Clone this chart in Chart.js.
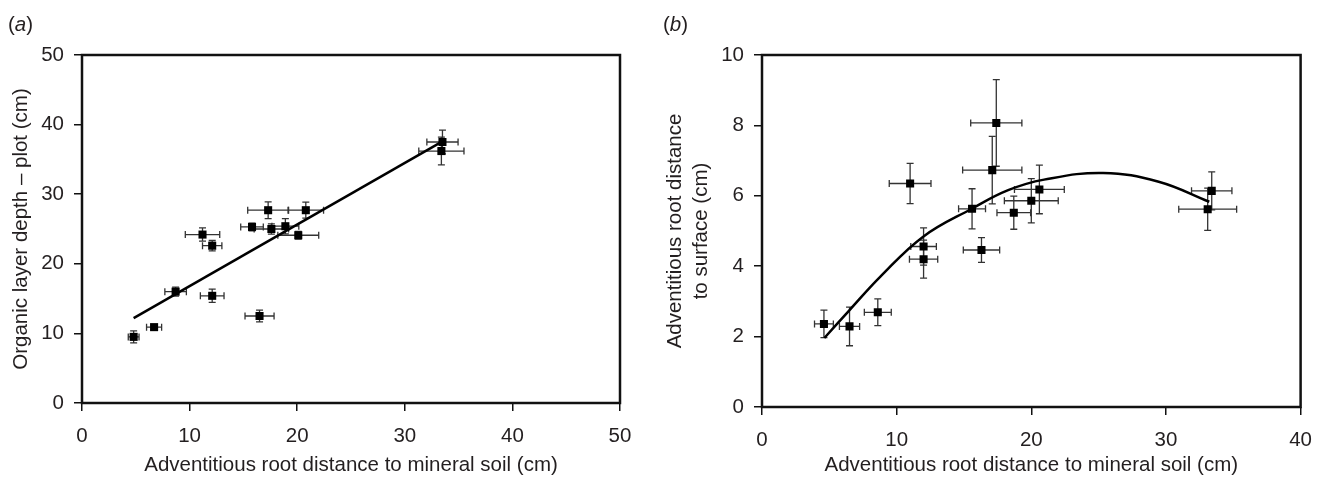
<!DOCTYPE html>
<html>
<head>
<meta charset="utf-8">
<script src="https://cdn.jsdelivr.net/npm/chart.js@4.4.1/dist/chart.umd.min.js"></script>
<style>
html, body { margin: 0; padding: 0; background: #fff; }
#wrap { position: relative; width: 1325px; height: 478px; overflow: hidden; font-family: 'Liberation Sans', Arial, sans-serif; color: #231f20; }
canvas { position: absolute; top: 0; }
.tag { position: absolute; top: 12px; font-size: 20.5px; }
</style>
</head>
<body>
<div id="wrap">
  <canvas id="chartA" width="660" height="478" style="left:0"></canvas>
  <canvas id="chartB" width="685" height="478" style="left:640px"></canvas>
  <div class="tag" style="left:8px">(<i>a</i>)</div>
  <div class="tag" style="left:663px">(<i>b</i>)</div>
</div>
<script>
// (a) organic layer depth vs root distance to mineral soil
const xA = [4.8, 6.7, 8.7, 11.2, 12.1, 12.1, 16.5, 15.8, 17.3, 17.6, 18.9, 20.1, 20.8, 33.5, 33.4];
const yA = [9.5, 10.9, 16.0, 24.2, 22.6, 15.4, 12.5, 25.3, 27.7, 25.0, 25.4, 24.1, 27.7, 37.5, 36.2];
const xErrA = [0.5, 0.7, 1.0, 1.6, 0.9, 1.1, 1.35, 1.05, 1.9, 1.6, 1.25, 1.9, 1.65, 1.45, 2.1];
const yErrA = [0.85, 0.3, 0.65, 0.95, 0.75, 0.95, 0.85, 0.55, 1.2, 0.75, 1.1, 0.55, 1.15, 1.7, 2.0];
const fitAx = [4.8, 33.5];
const fitAy = [12.2, 37.6];

// (b) root distance to surface vs root distance to mineral soil
const xB = [4.6, 6.5, 8.6, 11.0, 12.0, 12.0, 15.6, 16.3, 17.4, 17.1, 18.7, 20.0, 20.6, 33.4, 33.1];
const yB = [2.36, 2.29, 2.69, 6.35, 4.56, 4.2, 5.63, 4.46, 8.07, 6.73, 5.52, 5.86, 6.18, 6.14, 5.62];
const xErrB = [0.7, 0.75, 1.0, 1.55, 0.95, 1.05, 1.0, 1.35, 1.9, 2.2, 1.25, 2.0, 1.85, 1.5, 2.15];
const yErrB = [0.39, 0.55, 0.38, 0.57, 0.53, 0.54, 0.57, 0.35, 1.23, 0.96, 0.47, 0.63, 0.69, 0.54, 0.6];
const fitBx = [4.63, 6.52, 8.81, 11.97, 15.61, 18.28, 20.95, 25.33, 29.46, 33.22];
const fitBy = [1.96, 2.76, 3.71, 4.84, 5.64, 6.16, 6.46, 6.65, 6.4, 5.83];

const xTitle = 'Adventitious root distance to mineral soil (cm)';
const yTitleA = 'Organic layer depth \u2013 plot (cm)';
const yTitleB = ['Adventitious root distance', 'to surface (cm)'];

const FONT = "'Liberation Sans', Arial, sans-serif";
const INK = '#231f20';

function toPoints(xs, ys) {
    return xs.map((x, i) => ({x: x, y: ys[i]}));
}

// crosses of x and y error bars, drawn under the points
const errorBars = {
    id: 'errorBars',
    beforeDatasetsDraw(chart) {
        const ctx = chart.ctx;
        const sx = chart.scales.x, sy = chart.scales.y;
        const cap = 3.5;
        ctx.save();
        ctx.strokeStyle = '#333';
        ctx.lineWidth = 1.3;
        chart.data.datasets.forEach((ds) => {
            if (!ds.xErr) return;
            ds.data.forEach((p, i) => {
                const cx = sx.getPixelForValue(p.x), cy = sy.getPixelForValue(p.y);
                const x0 = sx.getPixelForValue(p.x - ds.xErr[i]), x1 = sx.getPixelForValue(p.x + ds.xErr[i]);
                const y0 = sy.getPixelForValue(p.y - ds.yErr[i]), y1 = sy.getPixelForValue(p.y + ds.yErr[i]);
                ctx.beginPath();
                ctx.moveTo(x0, cy); ctx.lineTo(x1, cy);
                ctx.moveTo(x0, cy - cap); ctx.lineTo(x0, cy + cap);
                ctx.moveTo(x1, cy - cap); ctx.lineTo(x1, cy + cap);
                ctx.moveTo(cx, y0); ctx.lineTo(cx, y1);
                ctx.moveTo(cx - cap, y0); ctx.lineTo(cx + cap, y0);
                ctx.moveTo(cx - cap, y1); ctx.lineTo(cx + cap, y1);
                ctx.stroke();
            });
        });
        ctx.restore();
    }
};

const frame = {
    id: 'frame',
    afterDraw(chart) {
        const a = chart.chartArea, ctx = chart.ctx;
        ctx.save();
        ctx.strokeStyle = '#111';
        ctx.lineWidth = 2.5;
        ctx.strokeRect(a.left, a.top, a.right - a.left, a.bottom - a.top);
        ctx.restore();
    }
};

function axis(horizontal, min, max, step, title, size, titlePad, lineHeight) {
    return {
        type: 'linear',
        min: min,
        max: max,
        ticks: {stepSize: step, color: INK, padding: horizontal ? 13 : 10, font: {family: FONT, size: 20.5}},
        grid: {drawOnChartArea: false, tickLength: 8, color: '#111', lineWidth: 1.5},
        border: {display: false},
        title: {display: true, text: title, color: INK, padding: titlePad,
                font: {family: FONT, size: 20.5, lineHeight: lineHeight}},
        afterFit(scale) {
            if (horizontal) scale.height = size;
            else scale.width = size;
        }
    };
}

function makeChart(id, pts, xErr, yErr, fit, tension, scales, padding) {
    return new Chart(document.getElementById(id), {
        type: 'scatter',
        data: {
            datasets: [
                {
                    data: pts, xErr: xErr, yErr: yErr,
                    pointStyle: 'rect', pointRadius: 5.7, pointHoverRadius: 5.7,
                    backgroundColor: '#000', borderColor: '#000', borderWidth: 0
                },
                {
                    data: fit, showLine: true, pointRadius: 0,
                    borderColor: '#000', borderWidth: 2.5, tension: tension
                }
            ]
        },
        options: {
            responsive: false,
            animation: false,
            devicePixelRatio: 1,
            layout: {padding: padding},
            plugins: {legend: {display: false}, tooltip: {enabled: false}},
            scales: scales
        },
        plugins: [errorBars, frame]
    });
}

makeChart('chartA', toPoints(xA, yA), xErrA, yErrA, toPoints(fitAx, fitAy), 0, {
    x: axis(true, 0, 50, 10, xTitle, 75, {top: 4, bottom: 0}, 1.25),
    y: axis(false, 0, 50, 10, yTitleA, 82, {top: 9, bottom: 0}, 1.25)
}, {top: 55, right: 40, left: 0, bottom: 0});

makeChart('chartB', toPoints(xB, yB), xErrB, yErrB, toPoints(fitBx, fitBy), 0.4, {
    x: axis(true, 0, 40, 10, xTitle, 71, {top: 4, bottom: 0}, 1.25),
    y: axis(false, 0, 10, 2, yTitleB, 122, {top: 21.7, bottom: 0}, 1.3)
}, {top: 55, right: 13, left: 0, bottom: 0});
</script>
</body>
</html>
